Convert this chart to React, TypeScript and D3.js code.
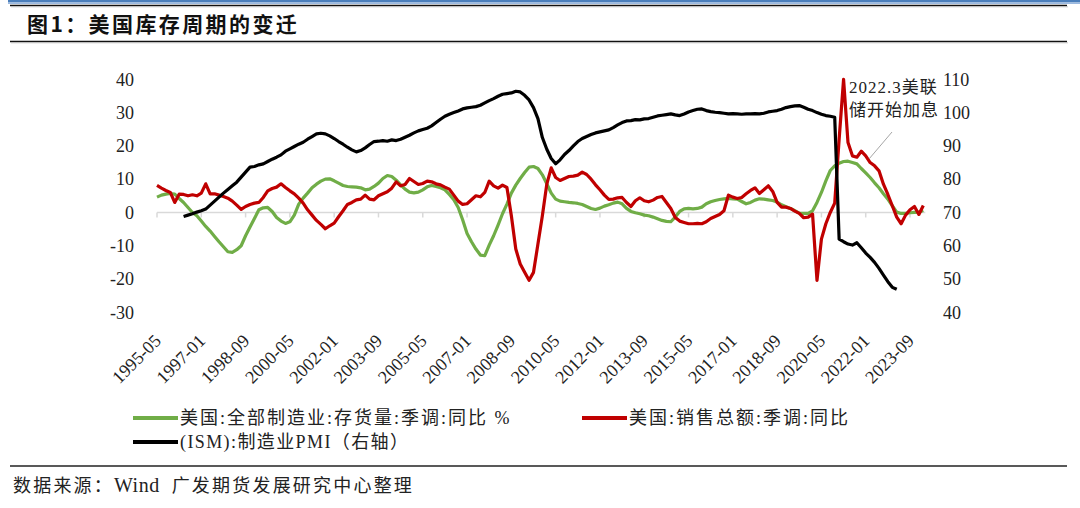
import React from "react";
import * as d3 from "d3";

// ---------- data ----------
const SERIES_START = "1995-05"; // first month of the two left-axis series
const SERIES_STEP = 2; // months between samples
const PMI_START = "1996-05";
const DOMAIN_END = "2024-03";

const xTickLabels = [
  "1995-05", "1997-01", "1998-09", "2000-05", "2002-01", "2003-09",
  "2005-05", "2007-01", "2008-09", "2010-05", "2012-01", "2013-09",
  "2015-05", "2017-01", "2018-09", "2020-05", "2022-01", "2023-09",
];
const leftTicks = [40, 30, 20, 10, 0, -10, -20, -30];
const rightTicks = [110, 100, 90, 80, 70, 60, 50, 40];

// 美国:全部制造业:存货量:季调:同比 %
const inventoryYoY = [
  4.6, 5.2, 5.5, 5.7, 5.5, 4.2, 3.0, 1.5, 0.0, -1.0,
  -2.6, -4.2, -5.6, -7.2, -8.8, -10.3, -11.8, -12.0, -11.2, -10.0,
  -7.0, -4.4, -1.8, 0.8, 1.4, 1.5, 0.3, -1.5, -2.6, -3.3,
  -2.8, -0.8, 2.5, 4.3, 5.8, 7.4, 8.5, 9.4, 10.0, 10.1,
  9.5, 8.8, 8.1, 7.8, 7.7, 7.6, 7.4, 6.8, 7.0, 7.8,
  8.8, 10.2, 11.1, 10.8, 9.7, 8.3, 7.0, 6.1, 5.9, 6.1,
  6.8, 7.7, 8.1, 7.8, 7.4, 6.8, 5.4, 3.8, 1.5, -2.2,
  -6.3, -8.8, -11.0, -12.8, -13.0, -9.8, -7.0, -3.8, -0.4, 2.5,
  5.8, 8.2, 10.2, 12.0, 13.6, 13.8, 13.2, 11.3, 8.6, 5.8,
  4.0, 3.4, 3.2, 3.0, 2.9, 2.7, 2.4, 1.8, 1.2, 0.9,
  1.3, 1.9, 2.3, 2.8, 3.1, 2.6, 1.2, 0.3, -0.1, -0.4,
  -0.8, -1.0, -1.4, -1.9, -2.4, -2.7, -2.8, -1.4, 0.3, 1.1,
  1.2, 1.1, 1.2, 1.6, 2.6, 3.2, 3.6, 3.9, 4.1, 4.2,
  4.1, 4.0, 3.3, 2.6, 3.0, 3.7, 4.1, 4.0, 3.8, 3.6,
  3.1, 2.3, 1.7, 1.2, 0.5, -0.2, -0.3, -0.3, 0.5, 3.0,
  6.0, 9.5, 12.6, 14.0, 14.8, 15.3, 15.4, 15.0, 14.6, 13.2,
  11.9, 10.5, 8.9, 7.4, 5.6, 4.0, 2.0, 0.1, -0.3, -0.3,
  -0.1, 0.0, 0.1, 0.6,
];

// 美国:销售总额:季调:同比
const salesYoY = [
  8.1, 7.3, 6.6, 6.0, 3.0, 5.5, 5.4, 5.0, 5.3, 5.0,
  5.8, 8.6, 5.6, 5.6, 5.2, 4.8, 4.3, 3.4, 2.2, 0.9,
  1.8, 2.4, 2.8, 3.0, 4.5, 6.5, 7.2, 7.6, 8.6, 7.5,
  6.5, 5.6, 4.3, 2.8, 0.8, -0.8, -2.4, -3.6, -4.9, -4.0,
  -3.2, -1.3, 0.5, 2.4, 3.0, 3.8, 4.0, 5.2, 4.0, 3.8,
  5.0, 5.6, 6.2, 7.3, 9.2, 8.0, 8.4, 10.2, 9.3, 8.4,
  8.7, 9.4, 9.2, 8.6, 8.3, 7.6, 7.0, 5.2, 3.4, 2.4,
  2.6, 3.8, 5.0, 4.7, 6.0, 9.4, 8.0, 7.3, 8.2, 7.5,
  -1.0, -11.0, -15.5, -18.0, -20.4, -18.0, -9.5, -1.0, 8.5, 13.4,
  10.5, 9.6, 10.2, 10.8, 10.9, 11.2, 12.1, 11.4, 10.0, 8.3,
  6.8, 5.2, 3.9, 4.0, 4.4, 4.5, 3.0, 1.8, 3.5, 4.4,
  3.5, 3.2, 3.7, 4.5, 4.8, 3.0, 1.2, -1.5, -2.6, -3.0,
  -3.4, -3.4, -3.3, -3.4, -2.8, -1.8, -1.2, -0.6, 0.5, 5.2,
  4.6, 4.2, 4.5, 5.6, 6.6, 7.4, 5.7, 6.8, 8.0, 6.3,
  3.0, 1.6, 1.6, 1.2, 0.4, -0.3, -1.6, -1.4, -0.5, -20.4,
  -8.0, -3.4, 0.0, 2.8, 22.0, 40.0, 21.0, 17.0, 16.6, 18.4,
  17.0, 15.0, 14.0, 12.5, 8.5, 5.4, 2.0, -1.4, -3.4, -0.8,
  0.8, 1.8, -0.6, 2.1,
];

// (ISM):制造业PMI（右轴）
const pmiRight = [
  68.8, 69.2, 69.6, 70.1, 70.5, 71.0, 72.2, 73.4, 74.6, 75.8,
  76.9, 78.0, 79.1, 80.6, 82.1, 83.6, 83.8, 84.3, 84.6, 85.3,
  86.0, 86.6, 87.3, 88.4, 89.1, 89.8, 90.5, 91.1, 92.0, 92.8,
  93.6, 93.8, 93.6, 93.0, 92.2, 91.3, 90.5, 89.6, 88.8, 88.2,
  88.6, 89.4, 90.4, 91.3, 91.4, 91.6, 91.4, 91.8, 91.6, 92.0,
  92.6, 93.2, 93.9, 94.5, 94.9, 95.3, 96.0, 97.0, 98.0, 98.9,
  99.5, 100.0, 100.5, 101.1, 101.4, 101.6, 101.8, 102.2, 102.9, 103.6,
  104.2, 104.9, 105.5, 105.7, 105.9, 106.4, 106.2, 105.2, 103.8, 101.5,
  98.2, 92.5, 89.0, 86.2, 84.6, 85.8, 87.4, 88.6, 90.0, 91.3,
  92.2, 92.8, 93.4, 93.9, 94.2, 94.5, 94.8, 95.5, 96.3, 97.0,
  97.5, 97.6, 97.9, 97.8, 98.1, 98.2, 98.6, 99.0, 99.2, 99.4,
  99.6, 99.3, 99.1, 99.6, 100.2, 100.6, 101.0, 101.1, 100.6, 100.3,
  100.1, 100.0, 99.8, 99.6, 99.7, 99.6, 99.5, 99.6, 99.6, 99.7,
  99.6, 99.8, 100.2, 100.4, 100.6, 101.0, 101.5, 101.8, 102.0, 102.1,
  101.6, 101.0, 100.6, 100.0, 99.5, 99.1, 98.9, 98.6, 62.0, 61.2,
  60.5, 60.2, 60.9, 59.4, 57.8, 56.5, 55.0, 53.2, 51.2, 49.2,
  47.5, 46.9,
];

const legendItems = [
  { label: "美国:全部制造业:存货量:季调:同比 %", color: "#70AD47" },
  { label: "美国:销售总额:季调:同比", color: "#C00000" },
  { label: "(ISM):制造业PMI（右轴）", color: "#000000" },
];

const annotationLines = ["2022.3美联", "储开始加息"];
const titleText = "图1：美国库存周期的变迁";
const sourceLabel = "数据来源：";
const sourceWind = "Wind";
const sourceText = "广发期货发展研究中心整理";

// ---------- helpers ----------
const parseMonth = d3.timeParse("%Y-%m");
const monthIdx = (s: string) =>
  d3.timeMonth.count(parseMonth(SERIES_START)!, parseMonth(s)!);

const FONT = "'Liberation Serif', 'Noto Sans CJK SC', serif";

export default function App() {
  const W = 1080;
  const H = 508;

  const x = d3
    .scaleLinear()
    .domain([0, monthIdx(DOMAIN_END)])
    .range([157, 923.3]);
  const yL = d3.scaleLinear().domain([-30, 40]).range([312.3, 79.3]);
  const yR = d3.scaleLinear().domain([40, 110]).range([312.3, 79.3]);

  const invPts = inventoryYoY.map((v, i) => [i * SERIES_STEP, v] as [number, number]);
  const salesPts = salesYoY.map((v, i) => [i * SERIES_STEP, v] as [number, number]);
  const pmiOff = monthIdx(PMI_START);
  const pmiPts = pmiRight.map((v, i) => [pmiOff + i * SERIES_STEP, v] as [number, number]);

  const lineL = d3
    .line<[number, number]>()
    .x((d) => x(d[0]))
    .y((d) => yL(d[1]));
  const lineR = d3
    .line<[number, number]>()
    .x((d) => x(d[0]))
    .y((d) => yR(d[1]));

  const tickXs = xTickLabels.map((l) => x(monthIdx(l)));
  const y0 = yL(0);

  return (
    <svg
      width={W}
      height={H}
      style={{ position: "absolute", left: 0, top: 0, background: "#fff" }}
      fontFamily={FONT}
    >
      <rect x={0} y={0} width={W} height={H} fill="#fff" />
      {/* top decoration */}
      <rect x={8} y={0} width={W - 8} height={2.5} fill="#4a7ebb" />
      <rect x={8} y={2.5} width={W - 8} height={1.5} fill="#9bb9e0" />
      <line x1={10} x2={1067} y1={5.6} y2={5.6} stroke="#111" strokeWidth={1.5} />
      <line x1={11} x2={1068} y1={6.8} y2={6.8} stroke="#bbb" strokeWidth={0.8} />

      {/* title */}
      <text
        x={27}
        y={32}
        fontSize={21}
        fontWeight="bold"
        letterSpacing={2.4}
        fontFamily="'Noto Sans CJK SC', sans-serif"
        fill="#111"
      >
        {titleText}
      </text>
      <line x1={10} x2={1067} y1={41.6} y2={41.6} stroke="#111" strokeWidth={1.5} />
      <line x1={11} x2={1068} y1={42.8} y2={42.8} stroke="#bbb" strokeWidth={0.8} />

      {/* zero axis with ticks */}
      <line x1={x(0)} x2={x(monthIdx(DOMAIN_END)) + 2} y1={y0} y2={y0} stroke="#d9d9d9" strokeWidth={1.5} />
      {tickXs.map((tx, i) => (
        <line key={i} x1={tx} x2={tx} y1={y0} y2={y0 + 5} stroke="#d9d9d9" strokeWidth={1.5} />
      ))}

      {/* left axis labels */}
      {leftTicks.map((t) => (
        <text key={t} x={134} y={yL(t)} dy="0.35em" textAnchor="end" fontSize={18} fill="#222">
          {t}
        </text>
      ))}
      {/* right axis labels */}
      {rightTicks.map((t) => (
        <text key={t} x={943} y={yR(t)} dy="0.35em" textAnchor="start" fontSize={18} fill="#222">
          {t}
        </text>
      ))}

      {/* x labels */}
      {xTickLabels.map((l, i) => (
        <text
          key={l}
          transform={`translate(${tickXs[i] + 5},${342}) rotate(-45)`}
          textAnchor="end"
          fontSize={18}
          fill="#222"
        >
          {l}
        </text>
      ))}

      {/* series */}
      <path d={lineL(invPts) || ""} fill="none" stroke="#70AD47" strokeWidth={3.2} strokeLinejoin="round" />
      <path d={lineL(salesPts) || ""} fill="none" stroke="#C00000" strokeWidth={3.2} strokeLinejoin="round" />
      <path d={lineR(pmiPts) || ""} fill="none" stroke="#000" strokeWidth={3.2} strokeLinejoin="round" />

      {/* annotation */}
      <line x1={892} y1={132} x2={869} y2={159} stroke="#a6a6a6" strokeWidth={1} />
      {annotationLines.map((t, i) => (
        <text key={i} x={849} y={93 + i * 23} fontSize={17} letterSpacing={1} fill="#222">
          {t}
        </text>
      ))}

      {/* legend */}
      <line x1={133} x2={178} y1={418} y2={418} stroke={legendItems[0].color} strokeWidth={4} />
      <text x={180} y={418} dy="0.35em" fontSize={18} letterSpacing={2} fill="#222">{legendItems[0].label}</text>
      <line x1={582} x2={627} y1={418} y2={418} stroke={legendItems[1].color} strokeWidth={4} />
      <text x={629} y={418} dy="0.35em" fontSize={18} letterSpacing={2} fill="#222">{legendItems[1].label}</text>
      <line x1={133} x2={178} y1={442} y2={442} stroke={legendItems[2].color} strokeWidth={4} />
      <text x={180} y={442} dy="0.35em" fontSize={18} letterSpacing={1.4} fill="#222">{legendItems[2].label}</text>

      {/* footer */}
      <line x1={10} x2={1067} y1={466} y2={466} stroke="#595959" strokeWidth={2} />
      <text x={13} y={492} fontSize={18} letterSpacing={2.2} fill="#222">
        {sourceLabel}
        <tspan fontSize={20} letterSpacing={0.5}>{sourceWind}</tspan>
        <tspan dx={12}>{sourceText}</tspan>
      </text>
    </svg>
  );
}
